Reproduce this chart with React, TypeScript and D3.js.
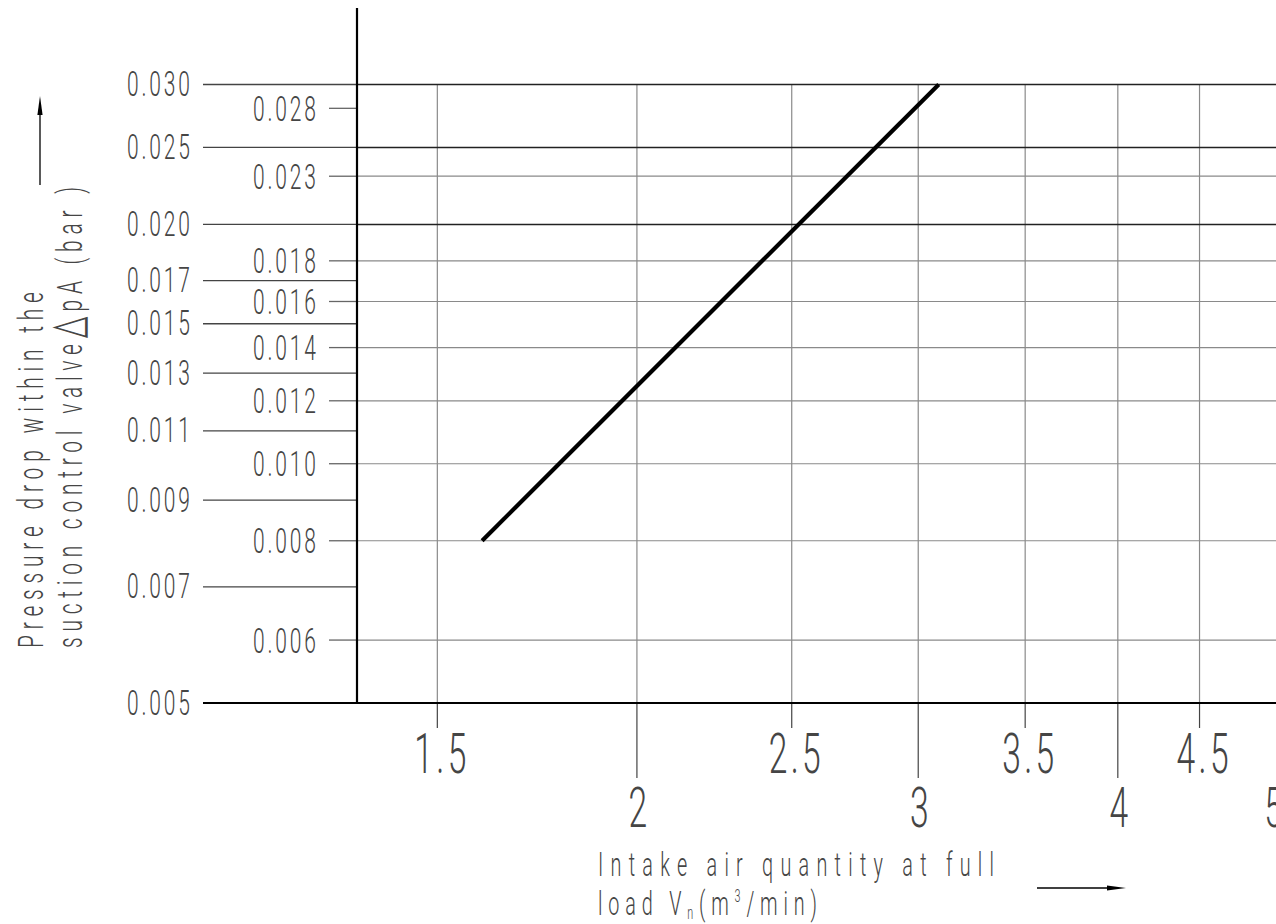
import { useEffect, useRef } from 'react'
import * as d3 from 'd3'

// Δp ticks (bar): the outer column of labels and the inner column
const Y_LEFT = [0.030, 0.025, 0.020, 0.017, 0.015, 0.013, 0.011, 0.009, 0.007, 0.005]
const Y_RIGHT = [0.028, 0.023, 0.018, 0.016, 0.014, 0.012, 0.010, 0.008, 0.006]
// which of them run across the plot
const Y_GRID_DARK = [0.030, 0.025, 0.020]
const Y_GRID_LIGHT = [0.023, 0.018, 0.016, 0.014, 0.012, 0.010, 0.008, 0.006]
// intake air ticks (m³/min)
const X_GRID = [1.5, 2, 2.5, 3, 3.5, 4, 4.5]
const X_HALF = [1.5, 2.5, 3.5, 4.5]
const X_INT = [2, 3, 4, 5]
const X_TICK_INT = [2, 3, 4]
// the characteristic line
const CURVE_V = [1.6, 3.09]
const CURVE_DP = [0.008, 0.030]

const W = 1276, H = 924
const AXIS_X = 357, TOP = 84.5, BOTTOM = 703
const LABEL_LINE_X = 203, SHORT_TICK_X = 329
const PX_PER_DEC_X = 1597.5
const X_MIN = 1.336, X_MAX = 5.6

const FONT = "Roboto, 'DejaVu Sans', sans-serif"
const INK = '#454545'

export default function App() {
  const ref = useRef<SVGSVGElement>(null)

  useEffect(() => {
    const svg = d3.select(ref.current)
    svg.selectAll('*').remove()

    const x = d3.scaleLog().domain([X_MIN, X_MAX])
      .range([AXIS_X, AXIS_X + PX_PER_DEC_X * Math.log10(X_MAX / X_MIN)])
    const y = d3.scaleLog().domain([0.005, 0.030]).range([BOTTOM, TOP])

    // condensed CAD-ish text: narrow glyphs, wide spacing
    const cad = (parent: any, tx: number, ty: number, str: string, size: number, len: number | null, anchor = 'start', sx = 0.6) => {
      const g = parent.append('g').attr('transform', `translate(${tx},${ty}) scale(${sx},1)`)
      const t = g.append('text').attr('font-family', FONT).attr('font-weight', 300)
        .attr('font-size', size).attr('fill', INK).attr('text-anchor', anchor).text(str)
      if (len) t.attr('textLength', len / sx).attr('lengthAdjust', 'spacing')
      return t
    }

    const hline = (g: any, data: number[], x1: number, x2: number, col: string, sw: number) =>
      g.selectAll(null).data(data).join('line')
        .attr('x1', x1).attr('x2', x2).attr('y1', (d: number) => y(d)).attr('y2', (d: number) => y(d))
        .attr('stroke', col).attr('stroke-width', sw)

    const grid = svg.append('g')
    hline(grid, Y_GRID_LIGHT, AXIS_X, W, '#8a8a8a', 1.2)
    grid.selectAll(null).data(X_GRID).join('line')
      .attr('x1', d => x(d)).attr('x2', d => x(d)).attr('y1', TOP).attr('y2', BOTTOM)
      .attr('stroke', '#8a8a8a').attr('stroke-width', 1.2)
    hline(grid, Y_GRID_DARK, AXIS_X, W, '#222', 1.4)

    // label leader lines left of the axis
    hline(grid, Y_LEFT, LABEL_LINE_X, AXIS_X, '#444', 1.3)
    hline(grid, Y_RIGHT, SHORT_TICK_X, AXIS_X, '#666', 1.3)

    // ticks below the x axis
    grid.selectAll(null).data(X_HALF).join('line')
      .attr('x1', d => x(d)).attr('x2', d => x(d)).attr('y1', BOTTOM).attr('y2', BOTTOM + 25)
      .attr('stroke', '#444').attr('stroke-width', 1.2)
    grid.selectAll(null).data(X_TICK_INT).join('line')
      .attr('x1', d => x(d)).attr('x2', d => x(d)).attr('y1', BOTTOM).attr('y2', BOTTOM + 75)
      .attr('stroke', '#444').attr('stroke-width', 1.2)

    // axes
    svg.append('line').attr('x1', LABEL_LINE_X).attr('x2', W).attr('y1', BOTTOM).attr('y2', BOTTOM)
      .attr('stroke', '#000').attr('stroke-width', 2.2)
    svg.append('line').attr('x1', AXIS_X).attr('x2', AXIS_X).attr('y1', 8).attr('y2', BOTTOM)
      .attr('stroke', '#000').attr('stroke-width', 2.2)

    // y labels
    const lab = svg.append('g')
    Y_LEFT.forEach(v => cad(lab, 190, y(v) + 11.5, v.toFixed(3), 35, 63, 'end'))
    Y_RIGHT.forEach(v => cad(lab, 316, y(v) + 12.5, v.toFixed(3), 35, 63, 'end'))
    // x labels
    X_HALF.forEach(v => cad(lab, x(v) + 3, BOTTOM + 70, String(v), 56, 52, 'middle'))
    X_INT.forEach(v => cad(lab, x(v) + 1, BOTTOM + 124, String(v), 56, null, 'middle'))

    // the line
    const pts = CURVE_V.map((v, i) => [v, CURVE_DP[i]] as [number, number])
    svg.append('path').datum(pts)
      .attr('d', d3.line<[number, number]>().x(d => x(d[0])).y(d => y(d[1])))
      .attr('fill', 'none').attr('stroke', '#000').attr('stroke-width', 4.2)

    // y title + arrow
    const yt = svg.append('g')
    cad(yt.append('g').attr('transform', 'translate(43,648) rotate(-90)'), 0, 0, 'Pressure drop within the', 35, 356)
    const l2 = cad(yt.append('g').attr('transform', 'translate(82,648) rotate(-90)'), 0, 0, '', 35, 461)
    l2.append('tspan').text('suction control valve')
    l2.append('tspan').attr('font-size', 46).attr('font-family', "'DejaVu Sans', sans-serif").attr('font-weight', 200).text('\u25B3')
    l2.append('tspan').text('pA (bar )')
    yt.append('line').attr('x1', 40).attr('x2', 40).attr('y1', 185).attr('y2', 110).attr('stroke', '#000').attr('stroke-width', 1.3)
    yt.append('path').attr('d', 'M40,96 L42.6,115 L37.4,115 Z').attr('fill', '#000')

    // x title + arrow
    const xt = svg.append('g')
    cad(xt, 598, 876, 'Intake air quantity at full', 33, 396)
    const t2 = cad(xt, 598, 915, '', 33, 219)
    t2.append('tspan').text('load V')
    t2.append('tspan').attr('font-size', 18).attr('dy', 4).text('n')
    t2.append('tspan').attr('dy', -4).text('(m')
    t2.append('tspan').attr('font-size', 18).attr('dy', -13).text('3')
    t2.append('tspan').attr('dy', 13).text('/min)')
    xt.append('line').attr('x1', 1037).attr('x2', 1110).attr('y1', 888).attr('y2', 888).attr('stroke', '#000').attr('stroke-width', 1.3)
    xt.append('path').attr('d', 'M1126,888 L1107,885.4 L1107,890.6 Z').attr('fill', '#000')
  }, [])

  return (
    <svg ref={ref} width={W} height={H}
      style={{ position: 'absolute', left: 0, top: 0, background: '#fff', display: 'block' }} />
  )
}
